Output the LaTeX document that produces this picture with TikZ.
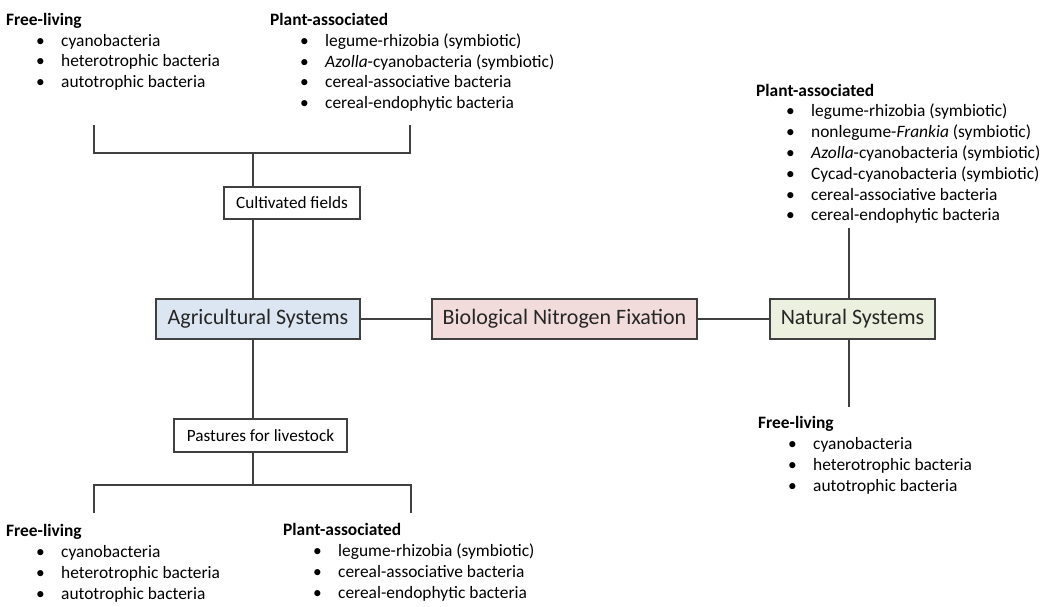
\documentclass[tikz,border=0pt]{standalone}
\usepackage{fontspec}
\setmainfont{Carlito}
\definecolor{agrifill}{HTML}{DCE6F2}
\definecolor{bnffill}{HTML}{F2DCDB}
\definecolor{natfill}{HTML}{EBF1DE}
\definecolor{linegray}{HTML}{404040}
\newcommand\listfont{\fontsize{17.4}{20.8}\selectfont}
\newcommand\blt{\hspace*{30pt}\makebox[25pt][l]{\textbullet}}
\begin{document}
\begin{tikzpicture}[x=1pt,y=-1pt,
  conn/.style={draw=linegray, line width=1.5pt},
  smallbox/.style={draw=linegray, line width=1.4pt, fill=white, inner sep=0pt,
    font=\fontsize{17.2}{20}\selectfont},
  bigbox/.style={draw=linegray, line width=1.4pt, inner sep=0pt, minimum height=40pt,
    font=\fontsize{22}{26}\selectfont, text=black!85},
  % lists are placed by the baseline of their last line
  listblock/.style={anchor=base west, inner sep=0pt, align=left, font=\listfont}]
\useasboundingbox (0,0) rectangle (1045,606);

% main boxes
\node[bigbox, fill=agrifill, minimum width=204pt] (agri) at (258,319) {Agricultural Systems};
\node[bigbox, fill=bnffill, minimum width=265pt] (bnf) at (564.5,319) {Biological Nitrogen Fixation};
\node[bigbox, fill=natfill, minimum width=165pt] (nat) at (852.5,319) {Natural Systems};

% intermediate boxes
\node[smallbox, minimum width=136pt, minimum height=32pt] (cult) at (292,203) {Cultivated fields};
\node[smallbox, minimum width=173pt, minimum height=33pt] (past) at (260.5,435.5) {Pastures for livestock};

% bracket anchors
\coordinate (brT) at (253,153);
\coordinate (brTL) at (94,125);
\coordinate (brTR) at (410,125);
\coordinate (brB) at (253,485);
\coordinate (brBL) at (94,513);
\coordinate (brBR) at (411,513);
\coordinate (natTop) at (849,228);
\coordinate (natBot) at (849,407);

% agricultural branch
\draw[conn] (brTL) -- (brTL |- brT) -- (brTR |- brT) -- (brTR);
\draw[conn] (brT) -- (brT |- cult.north);
\draw[conn] (brT |- cult.south) -- (brT |- agri.north);
\draw[conn] (brT |- agri.south) -- (brT |- past.north);
\draw[conn] (brT |- past.south) -- (brB);
\draw[conn] (brBL) -- (brBL |- brB) -- (brBR |- brB) -- (brBR);

% central links
\draw[conn] (agri.east) -- (bnf.west);
\draw[conn] (bnf.east) -- (nat.west);

% natural branch
\draw[conn] (natTop) -- (natTop |- nat.north);
\draw[conn] (natBot |- nat.south) -- (natBot);

% organism lists
\node[listblock] (cultfree) at (6,87.6) {\textbf{Free-living}\\
  \blt cyanobacteria\\
  \blt heterotrophic bacteria\\
  \blt autotrophic bacteria};
\node[listblock] (cultplant) at (270,108.6) {\textbf{Plant-associated}\\
  \blt legume-rhizobia (symbiotic)\\
  \blt \textit{Azolla}-cyanobacteria (symbiotic)\\
  \blt cereal-associative bacteria\\
  \blt cereal-endophytic bacteria};
\node[listblock] (natplant) at (756,220.8) {\textbf{Plant-associated}\\
  \blt legume-rhizobia (symbiotic)\\
  \blt nonlegume-\textit{Frankia} (symbiotic)\\
  \blt \textit{Azolla}-cyanobacteria (symbiotic)\\
  \blt Cycad-cyanobacteria (symbiotic)\\
  \blt cereal-associative bacteria\\
  \blt cereal-endophytic bacteria};
\node[listblock] (natfree) at (758,491) {\textbf{Free-living}\\
  \blt cyanobacteria\\
  \blt heterotrophic bacteria\\
  \blt autotrophic bacteria};
\node[listblock] (pastfree) at (6,599) {\textbf{Free-living}\\
  \blt cyanobacteria\\
  \blt heterotrophic bacteria\\
  \blt autotrophic bacteria};
\node[listblock] (pastplant) at (283,598) {\textbf{Plant-associated}\\
  \blt legume-rhizobia (symbiotic)\\
  \blt cereal-associative bacteria\\
  \blt cereal-endophytic bacteria};
\end{tikzpicture}
\end{document}
